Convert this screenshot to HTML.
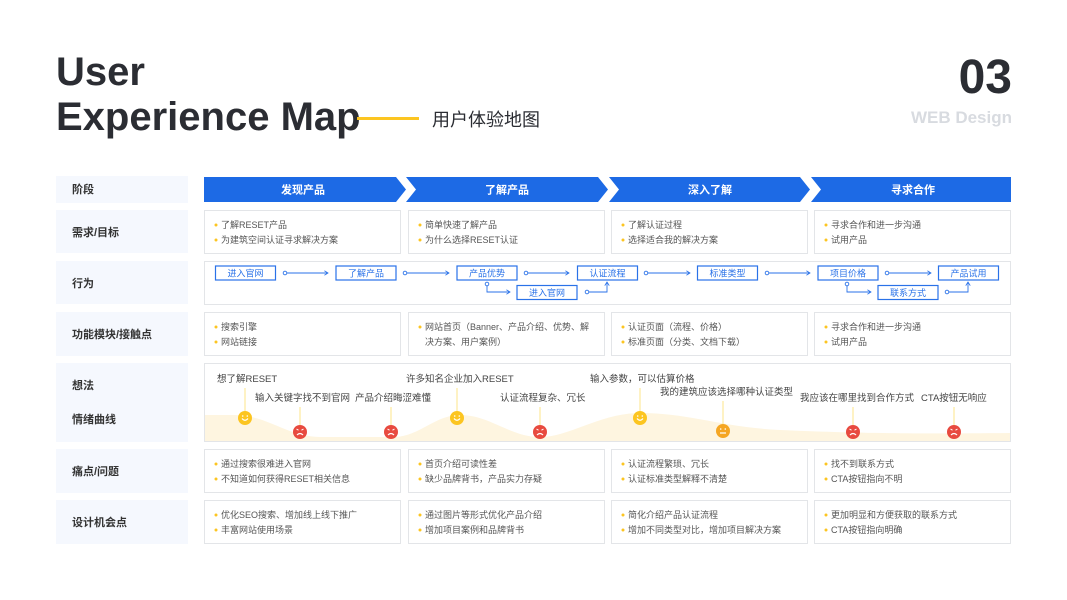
<!DOCTYPE html>
<html><head><meta charset="utf-8"><style>
html,body{margin:0;padding:0;background:#fff;}
svg{display:block;font-family:"Liberation Sans","Noto Sans CJK SC",sans-serif;}
.c{fill:#fff;stroke:#e3e5e8;stroke-width:1;}
.l{fill:#f5f8fe;}
.lt{font-size:11px;fill:#333;font-weight:bold;}
.t{font-size:9px;fill:#555;}
.b{fill:#fcc521;}
.bx{fill:#fff;stroke:#2a72e8;stroke-width:1.2;}
.bt{font-size:9px;fill:#2a72e8;text-anchor:middle;}
.ar{fill:none;stroke:#2a72e8;stroke-width:0.9;}
.th{font-size:9.5px;fill:#444;}
.st{stroke:#fde58a;stroke-width:1;}
</style></head><body>
<svg width="1067" height="600" viewBox="0 0 1067 600" xmlns="http://www.w3.org/2000/svg">
<defs>
<marker id="m" markerWidth="6" markerHeight="6" refX="5" refY="3" orient="auto"><path d="M1,0.5 L5,3 L1,5.5" fill="none" stroke="#2a72e8" stroke-width="0.9"/></marker>
<g id="face-h"><circle r="7" fill="#fcc521"/><path d="M-3,0.5 Q0,4 3,0.5" fill="none" stroke="#fff" stroke-width="1.2"/><circle cx="-2.3" cy="-2" r="0.8" fill="#fff"/><circle cx="2.3" cy="-2" r="0.8" fill="#fff"/></g>
<g id="face-s"><circle r="7" fill="#e84a3f"/><path d="M-3,3 Q0,0 3,3" fill="none" stroke="#fff" stroke-width="1.2"/><path d="M-3.5,-3 L-1.5,-1.8 M3.5,-3 L1.5,-1.8" stroke="#fff" stroke-width="1"/></g>
<g id="face-n"><circle r="7" fill="#f5a623"/><path d="M-3,2 L3,2" stroke="#fff" stroke-width="1.2"/><circle cx="-2.3" cy="-2" r="0.8" fill="#fff"/><circle cx="2.3" cy="-2" r="0.8" fill="#fff"/></g>
</defs>

<!-- Header -->
<text x="56" y="85" font-size="40" font-weight="bold" fill="#2b2d33">User</text>
<text x="56" y="130" font-size="40" font-weight="bold" fill="#2b2d33">Experience Map</text>
<rect x="357" y="117" width="62" height="3" fill="#fcc521"/>
<text x="432" y="126" font-size="18" fill="#2b2d33">用户体验地图</text>
<text x="1012" y="93" font-size="48" font-weight="bold" fill="#2b2d33" text-anchor="end">03</text>
<text x="1012" y="123" font-size="17" font-weight="bold" fill="#d8dbe0" text-anchor="end">WEB Design</text>

<!-- labels -->
<rect class="l" x="56" y="176" width="132" height="27"/><text class="lt" x="72" y="193">阶段</text>
<rect class="l" x="56" y="210" width="132" height="43"/><text class="lt" x="72" y="236">需求/目标</text>
<rect class="l" x="56" y="261" width="132" height="43"/><text class="lt" x="72" y="287">行为</text>
<rect class="l" x="56" y="312" width="132" height="44"/><text class="lt" x="72" y="338">功能模块/接触点</text>
<rect class="l" x="56" y="363" width="132" height="79"/><text class="lt" x="72" y="389">想法</text><text class="lt" x="72" y="423">情绪曲线</text>
<rect class="l" x="56" y="449" width="132" height="44"/><text class="lt" x="72" y="475">痛点/问题</text>
<rect class="l" x="56" y="500" width="132" height="44"/><text class="lt" x="72" y="526">设计机会点</text>

<!-- stages -->
<g fill="#1d6ae5">
<path d="M204,177 L396,177 L406,189.5 L396,202 L204,202 Z"/>
<path d="M406,177 L598,177 L608,189.5 L598,202 L406,202 L416,189.5 Z"/>
<path d="M609,177 L800,177 L810,189.5 L800,202 L609,202 L619,189.5 Z"/>
<path d="M811,177 L1011,177 L1011,202 L811,202 L821,189.5 Z"/>
</g>
<g font-size="11" font-weight="bold" fill="#fff" text-anchor="middle">
<text x="303" y="193.5">发现产品</text><text x="507" y="193.5">了解产品</text><text x="710" y="193.5">深入了解</text><text x="913" y="193.5">寻求合作</text>
</g>

<!-- 需求 -->
<rect class="c" x="204.5" y="210.5" width="196" height="43"/>
<rect class="c" x="408.5" y="210.5" width="196" height="43"/>
<rect class="c" x="611.5" y="210.5" width="196" height="43"/>
<rect class="c" x="814.5" y="210.5" width="196" height="43"/>
<g>
<circle class="b" cx="216" cy="225" r="1.5"/><text class="t" x="221" y="228">了解RESET产品</text>
<circle class="b" cx="216" cy="240" r="1.5"/><text class="t" x="221" y="243">为建筑空间认证寻求解决方案</text>
<circle class="b" cx="420" cy="225" r="1.5"/><text class="t" x="425" y="228">简单快速了解产品</text>
<circle class="b" cx="420" cy="240" r="1.5"/><text class="t" x="425" y="243">为什么选择RESET认证</text>
<circle class="b" cx="623" cy="225" r="1.5"/><text class="t" x="628" y="228">了解认证过程</text>
<circle class="b" cx="623" cy="240" r="1.5"/><text class="t" x="628" y="243">选择适合我的解决方案</text>
<circle class="b" cx="826" cy="225" r="1.5"/><text class="t" x="831" y="228">寻求合作和进一步沟通</text>
<circle class="b" cx="826" cy="240" r="1.5"/><text class="t" x="831" y="243">试用产品</text>
</g>

<!-- 行为 -->
<rect class="c" x="204.5" y="261.5" width="806" height="43"/>
<g>
<rect class="bx" x="215.5" y="266" width="60" height="14"/><text class="bt" x="245.5" y="276.5">进入官网</text>
<rect class="bx" x="336" y="266" width="60" height="14"/><text class="bt" x="366" y="276.5">了解产品</text>
<rect class="bx" x="457" y="266" width="60" height="14"/><text class="bt" x="487" y="276.5">产品优势</text>
<rect class="bx" x="577.5" y="266" width="60" height="14"/><text class="bt" x="607.5" y="276.5">认证流程</text>
<rect class="bx" x="697.5" y="266" width="60" height="14"/><text class="bt" x="727.5" y="276.5">标准类型</text>
<rect class="bx" x="818" y="266" width="60" height="14"/><text class="bt" x="848" y="276.5">项目价格</text>
<rect class="bx" x="938.5" y="266" width="60" height="14"/><text class="bt" x="968.5" y="276.5">产品试用</text>
<rect class="bx" x="517" y="285.5" width="60" height="14"/><text class="bt" x="547" y="296">进入官网</text>
<rect class="bx" x="878" y="285.5" width="60" height="14"/><text class="bt" x="908" y="296">联系方式</text>
</g>
<g class="ar">
<circle cx="285" cy="273" r="1.8"/><path d="M287,273 L328,273" marker-end="url(#m)"/>
<circle cx="405" cy="273" r="1.8"/><path d="M407,273 L449,273" marker-end="url(#m)"/>
<circle cx="526" cy="273" r="1.8"/><path d="M528,273 L569,273" marker-end="url(#m)"/>
<circle cx="646" cy="273" r="1.8"/><path d="M648,273 L690,273" marker-end="url(#m)"/>
<circle cx="767" cy="273" r="1.8"/><path d="M769,273 L810,273" marker-end="url(#m)"/>
<circle cx="887" cy="273" r="1.8"/><path d="M889,273 L931,273" marker-end="url(#m)"/>
<circle cx="487" cy="284" r="1.8"/><path d="M487,286 L487,292 L510,292" marker-end="url(#m)"/>
<circle cx="587" cy="292" r="1.8"/><path d="M589,292 L607,292 L607,282" marker-end="url(#m)"/>
<circle cx="847" cy="284" r="1.8"/><path d="M847,286 L847,292 L871,292" marker-end="url(#m)"/>
<circle cx="947" cy="292" r="1.8"/><path d="M949,292 L968,292 L968,282" marker-end="url(#m)"/>
</g>

<!-- 功能 -->
<rect class="c" x="204.5" y="312.5" width="196" height="43"/>
<rect class="c" x="408.5" y="312.5" width="196" height="43"/>
<rect class="c" x="611.5" y="312.5" width="196" height="43"/>
<rect class="c" x="814.5" y="312.5" width="196" height="43"/>
<g>
<circle class="b" cx="216" cy="327" r="1.5"/><text class="t" x="221" y="330">搜索引擎</text>
<circle class="b" cx="216" cy="342" r="1.5"/><text class="t" x="221" y="345">网站链接</text>
<circle class="b" cx="420" cy="327" r="1.5"/><text class="t" x="425" y="330">网站首页（Banner、产品介绍、优势、解</text>
<text class="t" x="425" y="345">决方案、用户案例）</text>
<circle class="b" cx="623" cy="327" r="1.5"/><text class="t" x="628" y="330">认证页面（流程、价格）</text>
<circle class="b" cx="623" cy="342" r="1.5"/><text class="t" x="628" y="345">标准页面（分类、文档下载）</text>
<circle class="b" cx="826" cy="327" r="1.5"/><text class="t" x="831" y="330">寻求合作和进一步沟通</text>
<circle class="b" cx="826" cy="342" r="1.5"/><text class="t" x="831" y="345">试用产品</text>
</g>

<!-- 想法 / 情绪 -->
<rect class="c" x="204.5" y="363.5" width="806" height="78"/>
<path d="M205,415 L235,415 C270,416 285,436 320,437 L395,437 C420,436 435,415 460,415 C490,415 510,437 540,437 C570,437 600,413 640,413 C690,413 720,427 780,430 C850,433 900,434 1010,433 L1010,441 L205,441 Z" fill="#fef5e0"/>
<g>
<text class="th" x="217" y="382">想了解RESET</text><line class="st" x1="245" y1="388" x2="245" y2="411"/>
<text class="th" x="255" y="401">输入关键字找不到官网</text><line class="st" x1="300" y1="407" x2="300" y2="425"/>
<text class="th" x="355" y="401">产品介绍晦涩难懂</text><line class="st" x1="391" y1="407" x2="391" y2="425"/>
<text class="th" x="406" y="382">许多知名企业加入RESET</text><line class="st" x1="457" y1="388" x2="457" y2="411"/>
<text class="th" x="500" y="401">认证流程复杂、冗长</text><line class="st" x1="540" y1="407" x2="540" y2="425"/>
<text class="th" x="590" y="382">输入参数，可以估算价格</text><line class="st" x1="640" y1="388" x2="640" y2="411"/>
<text class="th" x="660" y="395">我的建筑应该选择哪种认证类型</text><line class="st" x1="723" y1="401" x2="723" y2="424"/>
<text class="th" x="800" y="401">我应该在哪里找到合作方式</text><line class="st" x1="853" y1="407" x2="853" y2="425"/>
<text class="th" x="921" y="401">CTA按钮无响应</text><line class="st" x1="954" y1="407" x2="954" y2="425"/>
</g>
<use href="#face-h" x="245" y="418"/>
<use href="#face-s" x="300" y="432"/>
<use href="#face-s" x="391" y="432"/>
<use href="#face-h" x="457" y="418"/>
<use href="#face-s" x="540" y="432"/>
<use href="#face-h" x="640" y="418"/>
<use href="#face-n" x="723" y="431"/>
<use href="#face-s" x="853" y="432"/>
<use href="#face-s" x="954" y="432"/>

<!-- 痛点 -->
<rect class="c" x="204.5" y="449.5" width="196" height="43"/>
<rect class="c" x="408.5" y="449.5" width="196" height="43"/>
<rect class="c" x="611.5" y="449.5" width="196" height="43"/>
<rect class="c" x="814.5" y="449.5" width="196" height="43"/>
<g>
<circle class="b" cx="216" cy="464" r="1.5"/><text class="t" x="221" y="467">通过搜索很难进入官网</text>
<circle class="b" cx="216" cy="479" r="1.5"/><text class="t" x="221" y="482">不知道如何获得RESET相关信息</text>
<circle class="b" cx="420" cy="464" r="1.5"/><text class="t" x="425" y="467">首页介绍可读性差</text>
<circle class="b" cx="420" cy="479" r="1.5"/><text class="t" x="425" y="482">缺少品牌背书，产品实力存疑</text>
<circle class="b" cx="623" cy="464" r="1.5"/><text class="t" x="628" y="467">认证流程繁琐、冗长</text>
<circle class="b" cx="623" cy="479" r="1.5"/><text class="t" x="628" y="482">认证标准类型解释不清楚</text>
<circle class="b" cx="826" cy="464" r="1.5"/><text class="t" x="831" y="467">找不到联系方式</text>
<circle class="b" cx="826" cy="479" r="1.5"/><text class="t" x="831" y="482">CTA按钮指向不明</text>
</g>

<!-- 设计 -->
<rect class="c" x="204.5" y="500.5" width="196" height="43"/>
<rect class="c" x="408.5" y="500.5" width="196" height="43"/>
<rect class="c" x="611.5" y="500.5" width="196" height="43"/>
<rect class="c" x="814.5" y="500.5" width="196" height="43"/>
<g>
<circle class="b" cx="216" cy="515" r="1.5"/><text class="t" x="221" y="518">优化SEO搜索、增加线上线下推广</text>
<circle class="b" cx="216" cy="530" r="1.5"/><text class="t" x="221" y="533">丰富网站使用场景</text>
<circle class="b" cx="420" cy="515" r="1.5"/><text class="t" x="425" y="518">通过图片等形式优化产品介绍</text>
<circle class="b" cx="420" cy="530" r="1.5"/><text class="t" x="425" y="533">增加项目案例和品牌背书</text>
<circle class="b" cx="623" cy="515" r="1.5"/><text class="t" x="628" y="518">简化介绍产品认证流程</text>
<circle class="b" cx="623" cy="530" r="1.5"/><text class="t" x="628" y="533">增加不同类型对比，增加项目解决方案</text>
<circle class="b" cx="826" cy="515" r="1.5"/><text class="t" x="831" y="518">更加明显和方便获取的联系方式</text>
<circle class="b" cx="826" cy="530" r="1.5"/><text class="t" x="831" y="533">CTA按钮指向明确</text>
</g>
</svg>
</body></html>
